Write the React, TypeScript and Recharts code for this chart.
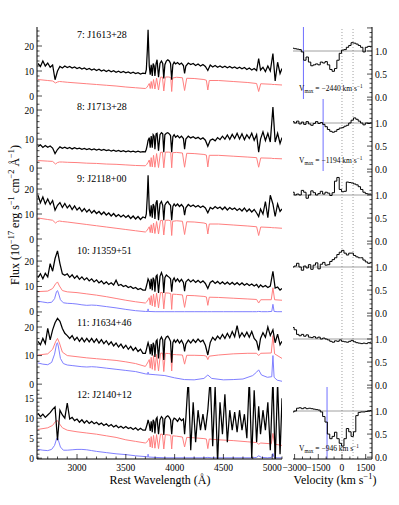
import React from "react";
import { LineChart, Line, XAxis, YAxis, ReferenceLine } from "recharts";

// wavelength grid of the observed spectra (Angstrom)
const wave = [
  2600, 2625, 2650, 2675, 2700, 2725, 2750, 2775, 2800, 2825, 2850, 2875, 2900, 2925, 2950, 2975, 3000, 3025, 3050, 3075, 3100, 3125,
  3150, 3175, 3200, 3225, 3250, 3275, 3300, 3325, 3350, 3375, 3400, 3425, 3450, 3475, 3500, 3525, 3550, 3575, 3600, 3625, 3650, 3675,
  3700, 3710, 3720, 3728, 3740, 3750, 3760, 3771, 3780, 3790, 3798, 3810, 3820, 3835, 3850, 3865, 3878, 3889, 3900, 3915, 3930, 3945,
  3958, 3970, 3982, 3995,
  4010, 4030, 4050, 4070, 4090, 4102, 4115, 4140, 4165, 4190, 4215, 4240, 4265, 4290, 4315, 4340, 4365, 4390, 4415, 4440, 4465, 4490,
  4515, 4540, 4565, 4590, 4615, 4640, 4665, 4690, 4715, 4740, 4765, 4790, 4815, 4840, 4861, 4880, 4905, 4930, 4955, 4980, 5007, 5030,
  5055, 5080, 5100,
];

// grid of the red (stellar model) curves
const modelWave = [
  2600, 2700, 2750, 2780, 2800, 2820, 2850, 2900, 3000, 3100, 3200, 3300, 3400, 3500, 3600, 3700, 3715, 3728, 3740, 3750, 3760, 3771,
  3784, 3798, 3815, 3835, 3855, 3875, 3889, 3905, 3940, 3960, 3970, 3980, 4020, 4080, 4102, 4124, 4200, 4300, 4325, 4340, 4355, 4450,
  4600, 4750, 4840, 4861, 4882, 4990, 5007, 5024, 5100,
];

// grid of the blue (AGN) curves
const blueWave = [
  2600, 2650, 2700, 2740, 2770, 2790, 2800, 2810, 2830, 2860, 2900, 2950, 3000, 3050, 3100, 3150, 3200, 3300, 3400, 3500, 3600, 3700,
  3726, 3728, 3730, 3800, 3900, 4000, 4100, 4200, 4300, 4340, 4380, 4500, 4600, 4700, 4800, 4840, 4861, 4890, 4950, 4995, 5007, 5019,
  5050, 5100,
];

// velocity grid of the normalised profiles (km/s)
const velGrid = [
  -3100, -2950, -2800, -2650, -2500, -2350, -2200, -2050, -1900, -1750, -1600, -1450, -1300, -1150, -1000, -850, -700, -550, -400,
  -250, -100, 50, 200, 350, 500, 650, 800, 950, 1100, 1250, 1400, 1550, 1700, 1850,
];

const flux7 = [
  13, 11.8, 14, 12, 13.2, 11.5, 12.4, 6.5, 10, 11.8, 11.2, 12, 11.4, 11.8, 11.2, 11.6, 11, 11.4, 10.8, 11.2, 10.6, 11, 10.4, 10.8,
  10.2, 10.7, 10, 10.4, 9.8, 10.3, 9.7, 10.1, 9.5, 9.9, 9.4, 9.8, 9.3, 9.6, 9.1, 9.5, 9, 9.3, 8.8, 9.1,
  9, 10.5, 18, 26.5, 12, 8.5, 12.5, 8, 13, 12, 8, 13, 14.5, 7.5, 13, 14, 13, 7, 12.5, 14, 14.5, 14, 13, 6.5, 12.5, 13.5,
  12.8, 13.4, 12.6, 13.2, 12.2, 9, 12, 13.2, 12.6, 13, 12.2, 12.8, 12, 12.6, 11.8, 10.2, 12.4, 11.6, 12.2, 11.5, 12, 11.4, 11.9,
  11.3, 11.8, 11.2, 11.6, 11, 11.5, 10.9, 11.4, 10.6, 11.2, 10.4, 11, 10.2, 15, 10.4, 11.5, 9.8, 12, 10, 17, 6, 13.5, 9, 11,
];
const model7 = [
  6.6, 6.2, 6.0, 5.2, 5.6, 5.8, 5.7, 5.5, 5.2, 4.9, 4.6, 4.3, 4.0, 3.6, 3.3, 3.0, 3.4, 4.2, 5.0, 3.0, 5.8, 3.0, 6.6, 2.8, 7.2, 2.4,
  7.5, 7.6, 2.0, 7.6, 7.6, 7.4, 1.8, 7.2, 7.5, 7.3, 2.2, 7.1, 7.0, 6.6, 6.3, 2.4, 6.2, 6.2, 5.8, 5.4, 5.0, 1.8, 4.9, 4.7, 4.6, 4.6, 4.4,
];
const norm7 = [
  1.06, 1.05, 1.04, 1.03, 0.98, 0.8, 0.87, 0.76, 0.68, 0.7, 0.72, 0.7, 0.76, 0.74, 0.77, 0.7, 0.6, 0.56, 0.62, 0.8, 0.95, 1.02, 1.03,
  1.08, 1.12, 1.18, 1.17, 1.15, 1.12, 1.08, 0.98, 1.08, 1.1, 1.09,
];

const flux8 = [
  7.4, 8, 7.1, 7.8, 7.2, 7.6, 6.9, 5, 6.4, 7.3, 6.8, 7.2, 6.7, 7.1, 6.6, 7, 6.6, 6.9, 6.5, 6.8, 6.4, 6.7, 6.3, 6.6, 6.2, 6.5, 6.1,
  6.4, 6, 6.3, 5.9, 6.2, 5.8, 6.1, 5.7, 6, 5.6, 5.9, 5.6, 5.8, 5.5, 5.8, 5.5, 5.7,
  5.6, 6.5, 8, 9.5, 10.5, 7, 11, 7, 11.5, 11, 6.5, 11.8, 12, 6, 11.5, 12.2, 11.8, 5.5, 11.5, 12, 12.2, 11.8, 11.2, 5.5, 10.8, 11.5,
  10.6, 11.2, 10.4, 11, 10.2, 6.5, 10, 11, 10.4, 10.8, 10.2, 10.6, 9.9, 10.4, 9.6, 7.5, 9.6, 10, 9.4, 10.5, 9.8, 11, 10, 11.4, 9.9,
  11.6, 10.2, 12, 10, 11.8, 9.8, 11.5, 10.2, 12, 9.6, 11.5, 5.5, 10, 12.5, 9.5, 12, 9, 21, 9, 12, 8.5, 10.5,
];
const model8 = [
  2.6, 2.4, 2.3, 1.4, 1.9, 2.1, 2.1, 2.0, 1.9, 1.7, 1.6, 1.4, 1.3, 1.1, 0.9, 0.8, 1.3, 2.0, 2.8, 0.5, 3.6, 0.4, 4.4, 0.3, 5.0, 0.2,
  5.4, 5.5, 0.1, 5.5, 5.5, 5.4, 0.1, 5.3, 5.4, 5.2, 0.3, 5.1, 5.0, 4.7, 4.5, 0.4, 4.4, 4.4, 4.1, 3.8, 3.6, 0.3, 3.5, 3.4, 3.3, 3.3, 3.2,
];
const norm8 = [
  1.03, 1.0, 1.04, 0.98, 1.02, 0.97, 1.03, 0.98, 0.95, 0.99, 1.03, 0.99, 1.01, 0.97, 0.92, 0.86, 0.82, 0.8, 0.82, 0.86, 0.89, 0.9,
  0.93, 0.95, 1.0, 1.06, 1.11, 1.08, 1.04, 1.0, 0.96, 1.0, 0.99, 1.0,
];

const flux9 = [
  17.5, 14.5, 16.8, 14, 16, 13.8, 15.4, 11.5, 13.5, 14.6, 12.6, 14.2, 12.4, 13.6, 11.8, 13.2, 11.6, 12.6, 11, 12.2, 10.8, 11.8, 10.4,
  11.4, 10.2, 11, 9.8, 10.8, 9.6, 10.4, 9.2, 10.2, 9, 9.8, 8.8, 9.6, 8.6, 9.4, 8.2, 9.2, 8, 9, 7.8, 8.8,
  8.4, 10, 17, 25.5, 12, 9, 13.5, 8.5, 14, 13, 8, 14.5, 15.5, 7.5, 14, 15, 13.5, 7.5, 13.5, 14.5, 15, 14, 13.5, 7.5, 13, 14,
  13.2, 14, 13, 13.8, 12.8, 9.5, 12.5, 13.8, 13, 13.6, 12.8, 13.4, 12.6, 13.2, 12.4, 10.5, 12.6, 12, 13, 12.2, 12.8, 11.8, 12.8, 11.6,
  12.6, 11.8, 12.4, 11.4, 12.2, 11.2, 12.4, 11, 12, 10.8, 11.8, 10.4, 9, 12, 10, 15, 8.5, 17.5, 14, 9, 14, 11, 12,
];
const model9 = [
  8.4, 7.8, 7.5, 6.4, 7.0, 7.2, 7.0, 6.8, 6.3, 5.8, 5.3, 4.8, 4.3, 3.8, 3.3, 2.8, 3.3, 4.1, 4.9, 2.6, 5.7, 2.4, 6.4, 2.2, 7.0, 2.0,
  7.4, 7.5, 1.6, 7.5, 7.5, 7.3, 1.4, 7.1, 7.3, 7.1, 1.8, 6.9, 6.8, 6.4, 6.1, 2.0, 6.0, 6.0, 5.6, 5.2, 4.9, 1.4, 4.8, 4.6, 4.5, 4.5, 4.3,
];
const norm9 = [
  1.06, 1.0, 1.02, 1.0, 1.1, 1.06, 0.93, 1.0, 1.09, 1.05, 1.0, 1.03, 1.08, 1.02, 1.06, 1.04, 0.99, 1.05, 1.3, 1.38, 1.12, 1.07, 1.08,
  1.28, 1.27, 1.26, 1.24, 1.22, 1.18, 1.12, 1.06, 1.03, 1.02, 1.02,
];

const flux10 = [
  13.5, 15, 13, 15.2, 13.8, 19, 16, 21, 24, 19, 15, 14.4, 15, 13.6, 14.6, 13.2, 14.2, 12.8, 13.8, 12.6, 13.4, 12.2, 13, 11.8, 12.6,
  11.4, 12.2, 11, 11.8, 10.8, 11.5, 10.6, 12.5, 10.4, 10.8, 10, 10.4, 9.6, 10, 9.2, 9.6, 8.8, 9.2, 8.6,
  8.6, 10, 11.5, 13, 12, 9, 13, 8.5, 13.5, 12.5, 8, 14, 14.5, 7.5, 14, 15.5, 14, 7.5, 13.5, 14.5, 14, 13.6, 13, 8, 12.5, 13.4,
  12, 13, 11.8, 12.8, 11.6, 8.2, 11.8, 12.8, 11.8, 12.6, 11.6, 12.4, 11.5, 12.2, 11.2, 9.2, 11.6, 12.2, 11.2, 12, 11, 11.8, 10.9, 11.7,
  10.8, 11.6, 10.7, 11.5, 10.6, 11.4, 10.5, 11.2, 10.4, 11, 10.2, 10.8, 9.6, 10.6, 9.8, 10.4, 9.6, 10.2, 16, 9.4, 9.8, 8.6, 9.2,
];
const model10 = [
  8, 8.2, 9.2, 11, 11.8, 10.2, 8.4, 7.9, 7.6, 7.1, 6.6, 6.0, 5.3, 4.6, 4.0, 3.5, 4.0, 4.8, 5.6, 2.8, 6.4, 2.4, 7.0, 2.0, 7.4, 1.6,
  7.6, 7.6, 1.2, 7.5, 7.4, 7.2, 1.0, 7.0, 6.9, 6.7, 1.8, 6.5, 6.4, 6.1, 5.9, 2.6, 5.8, 5.7, 5.4, 5.1, 4.9, 3.5, 4.8, 4.8, 9.5, 4.8, 4.6,
];
const agn10 = [
  4.2, 3.9, 3.6, 3.8, 5.2, 8.0, 8.4, 7.4, 4.8, 3.6, 3.4, 3.3, 3.1, 2.8, 2.6, 2.7, 2.6, 2.1, 1.6, 1.0, 0.5, 0.2, 0.2, 1.2, 0.2, 0.1,
  0.1, 0.1, 0.1, 0.1, 0.1, 0.1, 0.1, 0.1, 0.1, 0.1, 0.1, 0.1, 0.2, 0.1, 0.1, 0.2, 3.0, 0.2, 0.1, 0.1,
];
const norm10 = [
  1.0, 1.02, 1.08, 1.0, 0.93, 1.02, 0.98, 1.05, 0.95, 1.04, 1.09, 0.96, 1.06, 1.1, 1.04, 1.05, 1.12, 1.16, 1.2, 1.27, 1.32, 1.36,
  1.3, 1.26, 1.3, 1.3, 1.25, 1.22, 1.2, 1.2, 1.15, 1.11, 1.08, 1.09,
];

const flux11 = [
  15, 13.8, 16, 14.2, 19.5, 15.5, 19, 21.5, 23, 22, 19.5, 17.8, 17, 16, 17, 15.4, 16.4, 15, 16.2, 14.8, 16, 14.8, 16, 14.6, 15.8,
  14.4, 15.6, 14.2, 15.2, 13.8, 14.8, 13.4, 14.4, 13, 14, 12.6, 13.6, 12.2, 13.2, 11.8, 12.8, 11.4, 12.2, 10.8,
  10.8, 12, 13.5, 14.5, 13, 10.5, 14, 10, 14.5, 13.5, 9.5, 15, 15.5, 9, 15.5, 16.5, 15.5, 8.5, 15.5, 16.5, 16.8, 16, 15, 7.5, 14.5,
  15.5,
  14.6, 15.6, 14.4, 15.4, 14, 11.5, 14, 15.4, 14.4, 15.6, 14.6, 15.8, 14.8, 15.4, 13.6, 10.2, 14.6, 16.4, 15.4, 16.8, 15.8, 17.4, 16,
  17.8, 16.2, 18.4, 16.6, 20.5, 16.4, 18, 16.6, 18.2, 16.4, 18.4, 16, 15, 11.8, 16, 18, 16.4, 20, 17, 19, 14.5, 17.5, 13.8, 15,
];
const model11 = [
  10.2, 10.6, 12.2, 14.8, 16, 14.4, 11.2, 10, 9.6, 9.2, 8.9, 8.6, 8.3, 7.8, 7.2, 6.2, 7.0, 7.8, 8.6, 5.6, 9.4, 5.2, 10.0, 4.8, 10.4,
  4.6, 10.8, 10.9, 4.4, 10.8, 10.7, 10.6, 4.6, 10.4, 10.3, 10.2, 7.0, 10.1, 10.1, 10.0, 9.8, 8.6, 9.8, 10.2, 10.6, 10.8, 10.8, 10.0,
  10.8, 10.9, 17, 10.6, 9,
];
const agn11 = [
  7.4, 7.0, 6.8, 7.6, 10.5, 14.0, 14.5, 13.0, 9.0, 7.2, 6.7, 6.5, 6.3, 6.1, 6.0, 6.1, 6.0, 5.6, 5.2, 4.8, 4.4, 3.6, 3.5, 4.2, 3.5,
  3.3, 3.0, 2.2, 1.6, 1.5, 2.0, 3.2, 2.0, 1.5, 1.6, 1.8, 3.0, 4.2, 5.0, 3.2, 2.4, 2.6, 10, 2.4, 1.4, 1.0,
];
const norm11 = [
  1.25, 1.2, 1.1, 1.07, 1.1, 1.06, 1.09, 1.04, 1.03, 1.05, 1.02, 1.04, 1.0, 1.02, 1.0, 0.98, 0.95, 0.93, 0.96, 0.95, 0.98, 0.95,
  0.94, 0.93, 0.95, 0.97, 0.94, 0.92, 0.91, 0.9, 0.91, 0.9, 0.92, 0.93,
];

const flux12 = [
  11.2, 10.4, 11, 10.2, 10.8, 11.4, 12.2, 12.8, 4.5, 12, 10.8, 10, 13.8, 9.8, 10.2, 9.4, 9.8, 9, 9.6, 8.8, 9.4, 8.7, 9.2, 8.6, 9,
  8.4, 8.8, 8.2, 8.6, 8, 8.4, 7.8, 8.2, 7.6, 8, 7.5, 7.9, 7.4, 7.7, 7.2, 7.6, 7, 7.5, 7,
  7, 7.8, 8.6, 9.6, 8.5, 6.8, 9.2, 6.5, 9.6, 9, 6.2, 9.8, 10.2, 6, 9.6, 10.4, 10, 5.8, 9.8, 10.4, 10.6, 10.2, 9.6, 6, 9.4, 10,
  9.8, 9.2, 10, 9.4, 9.8, 6, 10, 20, 2, 14, 4, 12, 7, 11, 7, 12, 20, 3, 18, -1, 14, 6, 16, 4, 12, 7, 11.5, 6.5, 12, 7, 11, 5, 20, 0,
  17, 4, 13, 6, 12, 7, 14, 2, 20, -1, 19, 1, 15,
];
const model12 = [
  7.2, 7.6, 8.2, 9.2, 9.4, 8.6, 7.6, 7.0, 6.6, 6.3, 6.0, 5.6, 5.2, 4.6, 4.2, 3.8, 4.0, 4.5, 5.0, 2.8, 5.4, 2.6, 5.7, 2.5, 5.9, 2.4,
  6.0, 6.0, 2.3, 5.9, 5.8, 5.7, 2.3, 5.6, 5.5, 5.3, 2.8, 5.2, 5.1, 4.9, 4.8, 2.4, 4.8, 4.6, 4.4, 4.1, 3.9, 3.5, 3.8, 3.6, 6.2, 3.5, 3.2,
];
const agn12 = [
  2.2, 2.0, 1.9, 2.2, 3.2, 4.8, 5.2, 4.4, 2.8, 2.0, 2.0, 2.1, 2.2, 2.2, 2.1, 1.9, 1.7, 1.4, 1.1, 0.9, 0.6, 0.4, 0.3, 1.0, 0.3, 0.2,
  0.1, 0.1, 0.1, 0.1, 0.1, 0.2, 0.1, 0.1, 0.1, 0.1, 0.1, 0.2, 0.6, 0.2, 0.1, 0.2, 1.2, 0.2, 0.1, 0.1,
];
const norm12 = [
  0.98, 1.0, 1.06, 1.07, 1.05, 1.07, 1.05, 1.06, 1.05, 1.04, 1.03, 1.02, 0.98, 0.88, 0.76, 0.5, 0.4, 0.45, 0.54, 0.4, 0.3, 0.24, 0.4,
  0.62, 0.55, 0.45, 0.55, 0.9, 0.97, 0.98, 0.98, 0.99, 1.0, 1.01,
];

const labels = ["7: J1613+28", "8: J1713+28", "9: J2118+00", "10: J1359+51", "11: J1634+46", "12: J2140+12"];
const vmaxValues: (number | null)[] = [-2440, -1194, null, null, null, -946];

const SERIF = "'Liberation Serif', 'Times New Roman', Times, serif";
const WAVE_DOMAIN: [number, number] = [2590, 5100];
const VEL_DOMAIN: [number, number] = [-3100, 1900];
const NORM_DOMAIN: [number, number] = [-0.04, 1.52];
const PANEL_H = 72;
const PAD = 6; // room above/below each plot so edge labels are not clipped
const tops = [27, 99, 171, 243, 315, 387];

const range = (a: number, b: number, s: number) => {
  const out: number[] = [];
  for (let v = a; v <= b + 1e-9; v += s) out.push(Math.round(v * 1000) / 1000);
  return out;
};
const zip = (xs: number[], ys: number[]) => xs.map((w, i) => ({ w, f: ys[i] }));
const minus = (v: number) => (v < 0 ? "\u2212" + Math.abs(v) : String(v));

const waveTicks = range(2600, 5100, 100);
const velTicks = range(-3000, 1500, 500);
const normTicks = range(0, 1.5, 0.1);

type Side = "bottom" | "top" | "left" | "right";

function axisTick(side: Side, major: number, fmt?: (v: number) => string) {
  return (p: any) => {
    const x = Number(p.x);
    const y = Number(p.y);
    const v = Number(p.payload?.value);
    const isMajor = Math.abs(v / major - Math.round(v / major)) < 1e-6;
    const len = isMajor ? 5 : 2.5;
    let x2 = x;
    let y2 = y;
    if (side === "bottom") y2 = y - len;
    if (side === "top") y2 = y + len;
    if (side === "left") x2 = x + len;
    if (side === "right") x2 = x - len;
    const text = fmt && isMajor ? fmt(v) : "";
    let label = null;
    if (text) {
      if (side === "bottom")
        label = (
          <text x={x} y={y + 12} textAnchor="middle" fontSize={9.5} fontFamily={SERIF} fill="#000">
            {text}
          </text>
        );
      if (side === "left")
        label = (
          <text x={x - 3} y={y + 3.5} textAnchor="end" fontSize={9.5} fontFamily={SERIF} fill="#000">
            {text}
          </text>
        );
      if (side === "right")
        label = (
          <text x={x + 3} y={y + 3.5} textAnchor="start" fontSize={9.5} fontFamily={SERIF} fill="#000">
            {text}
          </text>
        );
    }
    return (
      <g>
        <line x1={x} y1={y} x2={x2} y2={y2} stroke="#000" strokeWidth={0.7} />
        {label}
      </g>
    );
  };
}

interface PanelCfg {
  label: string;
  top: number;
  flux: number[];
  model: number[];
  agn: number[] | null;
  norm: number[];
  vmax: number | null;
  yDomain: [number, number];
  yMajor: number;
  yMinor: number;
}

const panels: PanelCfg[] = [
  { label: labels[0], top: tops[0], flux: flux7, model: model7, agn: null, norm: norm7, vmax: vmaxValues[0], yDomain: [-1.2, 27.6], yMajor: 10, yMinor: 2 },
  { label: labels[1], top: tops[1], flux: flux8, model: model8, agn: null, norm: norm8, vmax: vmaxValues[1], yDomain: [-1, 23.8], yMajor: 10, yMinor: 2 },
  { label: labels[2], top: tops[2], flux: flux9, model: model9, agn: null, norm: norm9, vmax: vmaxValues[2], yDomain: [-1.6, 27.2], yMajor: 10, yMinor: 2 },
  { label: labels[3], top: tops[3], flux: flux10, model: model10, agn: agn10, norm: norm10, vmax: vmaxValues[3], yDomain: [-1.2, 27.1], yMajor: 10, yMinor: 2 },
  { label: labels[4], top: tops[4], flux: flux11, model: model11, agn: agn11, norm: norm11, vmax: vmaxValues[4], yDomain: [-1, 24.2], yMajor: 10, yMinor: 2 },
  { label: labels[5], top: tops[5], flux: flux12, model: model12, agn: agn12, norm: norm12, vmax: vmaxValues[5], yDomain: [-0.2, 17.8], yMajor: 5, yMinor: 1 },
];

const axisLine = { stroke: "#000", strokeWidth: 1 };

function SpecPanel({ p, last }: { p: PanelCfg; last: boolean }) {
  const yTicks = range(0, p.yDomain[1], p.yMinor);
  return (
    <div style={{ position: "absolute", left: 0, top: p.top - PAD }}>
      <LineChart
        width={283}
        height={last ? PAD + PANEL_H + 16 : PANEL_H + 2 * PAD}
        margin={{ top: PAD, right: 1, bottom: last ? 0 : PAD, left: 0 }}
      >
        <XAxis
          xAxisId="b"
          dataKey="w"
          type="number"
          domain={WAVE_DOMAIN}
          allowDataOverflow
          ticks={waveTicks}
          interval={0}
          height={last ? 16 : 0}
          tickSize={0}
          tickMargin={0}
          tickLine={false}
          axisLine={axisLine}
          tick={axisTick("bottom", 500, last ? String : undefined)}
        />
        <XAxis
          xAxisId="t"
          orientation="top"
          dataKey="w"
          type="number"
          domain={WAVE_DOMAIN}
          allowDataOverflow
          ticks={waveTicks}
          interval={0}
          height={0}
          tickSize={0}
          tickMargin={0}
          tickLine={false}
          axisLine={axisLine}
          tick={axisTick("top", 500)}
        />
        <YAxis
          yAxisId="l"
          type="number"
          domain={p.yDomain}
          allowDataOverflow
          ticks={yTicks}
          interval={0}
          width={37}
          tickSize={0}
          tickMargin={0}
          tickLine={false}
          axisLine={axisLine}
          tick={axisTick("left", p.yMajor, String)}
        />
        <YAxis
          yAxisId="r"
          orientation="right"
          type="number"
          domain={p.yDomain}
          allowDataOverflow
          ticks={yTicks}
          interval={0}
          width={0}
          tickSize={0}
          tickMargin={0}
          tickLine={false}
          axisLine={axisLine}
          tick={axisTick("right", p.yMajor)}
        />
        {p.agn && (
          <Line xAxisId="b" yAxisId="l" data={zip(blueWave, p.agn)} dataKey="f" stroke="#7f7fff" strokeWidth={1} dot={false} isAnimationActive={false} />
        )}
        <Line xAxisId="b" yAxisId="l" data={zip(modelWave, p.model)} dataKey="f" stroke="#ff7f7f" strokeWidth={1} dot={false} isAnimationActive={false} />
        <Line xAxisId="b" yAxisId="l" data={zip(wave, p.flux)} dataKey="f" stroke="#000" strokeWidth={1.25} dot={false} isAnimationActive={false} />
      </LineChart>
    </div>
  );
}

function VelPanel({ p, last }: { p: PanelCfg; last: boolean }) {
  return (
    <div style={{ position: "absolute", left: 282, top: p.top - PAD }}>
      <LineChart
        width={117}
        height={last ? PAD + PANEL_H + 16 : PANEL_H + 2 * PAD}
        margin={{ top: PAD, right: 0, bottom: last ? 0 : PAD, left: 11 }}
      >
        <XAxis
          xAxisId="b"
          dataKey="w"
          type="number"
          domain={VEL_DOMAIN}
          allowDataOverflow
          ticks={velTicks}
          interval={0}
          height={last ? 16 : 0}
          tickSize={0}
          tickMargin={0}
          tickLine={false}
          axisLine={axisLine}
          tick={axisTick("bottom", 1500, last ? minus : undefined)}
        />
        <XAxis
          xAxisId="t"
          orientation="top"
          dataKey="w"
          type="number"
          domain={VEL_DOMAIN}
          allowDataOverflow
          ticks={velTicks}
          interval={0}
          height={0}
          tickSize={0}
          tickMargin={0}
          tickLine={false}
          axisLine={axisLine}
          tick={axisTick("top", 1500)}
        />
        <YAxis
          yAxisId="l"
          type="number"
          domain={NORM_DOMAIN}
          allowDataOverflow
          ticks={normTicks}
          interval={0}
          width={0}
          tickSize={0}
          tickMargin={0}
          tickLine={false}
          axisLine={axisLine}
          tick={axisTick("left", 0.5)}
        />
        <YAxis
          yAxisId="r"
          orientation="right"
          type="number"
          domain={NORM_DOMAIN}
          allowDataOverflow
          ticks={normTicks}
          interval={0}
          width={27}
          tickSize={0}
          tickMargin={0}
          tickLine={false}
          axisLine={axisLine}
          tick={axisTick("right", 0.5, (v) => (v <= 1 ? v.toFixed(1) : ""))}
        />
        <ReferenceLine xAxisId="b" yAxisId="r" y={1} stroke="#a0a0a0" strokeWidth={1} />
        <ReferenceLine xAxisId="b" yAxisId="r" x={0} stroke="#777" strokeWidth={0.7} strokeDasharray="1 2" />
        <ReferenceLine xAxisId="b" yAxisId="r" x={700} stroke="#777" strokeWidth={0.7} strokeDasharray="1 2" />
        {p.vmax !== null && <ReferenceLine xAxisId="b" yAxisId="r" x={p.vmax} stroke="#6f6fff" strokeWidth={1} />}
        <Line
          xAxisId="b"
          yAxisId="r"
          data={zip(velGrid, p.norm)}
          dataKey="f"
          type="step"
          stroke="#000"
          strokeWidth={1}
          dot={false}
          isAnimationActive={false}
        />
      </LineChart>
    </div>
  );
}

const sup = { fontSize: "0.7em", verticalAlign: "0.5em", lineHeight: 0 } as const;

export default function App() {
  return (
    <div style={{ position: "absolute", left: 0, top: 0, width: 399, height: 505, background: "#fff", fontFamily: SERIF, color: "#000" }}>
      {panels.map((p, i) => (
        <React.Fragment key={p.label}>
          <SpecPanel p={p} last={i === panels.length - 1} />
          <VelPanel p={p} last={i === panels.length - 1} />
          <div style={{ position: "absolute", left: 77, top: p.top + 2, fontSize: 10, lineHeight: "12px", whiteSpace: "nowrap" }}>{p.label}</div>
          {p.vmax !== null && (
            <div style={{ position: "absolute", left: 299, top: p.top + 57, fontSize: 7.5, lineHeight: "10px", whiteSpace: "nowrap" }}>
              V<span style={{ fontSize: "0.7em", verticalAlign: "-0.35em", lineHeight: 0 }}>max</span> = {minus(p.vmax)} km s
              <span style={sup}>{"\u22121"}</span>
            </div>
          )}
        </React.Fragment>
      ))}
      <div
        style={{
          position: "absolute",
          left: 15,
          top: 215,
          transform: "translate(-50%, -50%) rotate(-90deg)",
          fontSize: 12,
          whiteSpace: "nowrap",
        }}
      >
        Flux (10<span style={sup}>{"\u221217"}</span> erg s<span style={sup}>{"\u22121"}</span> cm<span style={sup}>{"\u22122"}</span> Å
        <span style={sup}>{"\u22121"}</span>)
      </div>
      <div style={{ position: "absolute", left: 160, top: 480, transform: "translate(-50%, -50%)", fontSize: 12, whiteSpace: "nowrap" }}>
        Rest Wavelength (Å)
      </div>
      <div style={{ position: "absolute", left: 335, top: 480, transform: "translate(-50%, -50%)", fontSize: 12, whiteSpace: "nowrap" }}>
        Velocity (km s<span style={sup}>{"\u22121"}</span>)
      </div>
    </div>
  );
}
